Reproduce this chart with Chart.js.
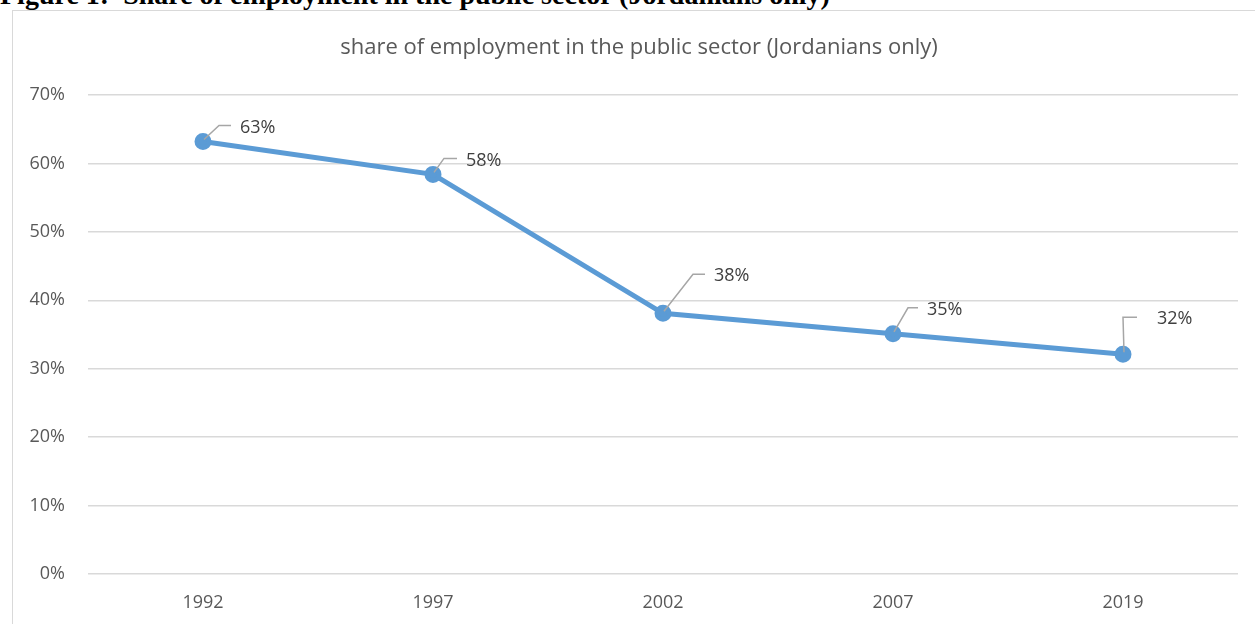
<!DOCTYPE html>
<html>
<head>
    <title>Public sector employment</title>
    <script src="https://cdn.jsdelivr.net/npm/chart.js@4.4.1/dist/chart.umd.min.js"></script>
    <style>
    body {
        margin: 0;
        width: 1255px;
        height: 624px;
        overflow: hidden;
        background: #fff;
        position: relative;
    }
    .caption {
        position: absolute;
        left: 0;
        top: -19px;
        font: bold 28px/28px "Liberation Serif", "Times New Roman", serif;
        color: #000;
        white-space: nowrap;
    }
    .frame {
        position: absolute;
        left: 12px;
        top: 10px;
        width: 1400px;
        height: 800px;
        border: 1px solid #d9d9d9;
    }
    #myCanvas {
        position: absolute;
        left: 0;
        top: 0;
    }
    </style>
</head>

<body>
  <div class="caption">Figure 1:&nbsp; Share of employment in the public sector (Jordanians only)</div>
  <div class="frame"></div>
  <canvas id="myCanvas" width="1255" height="624"></canvas>

  <script>
    var years = ["1992", "1997", "2002", "2007", "2019"];
    var publicShare = [63.2, 58.4, 38.1, 35.1, 32.1];
    var yTicks = [0, 10, 20, 30, 40, 50, 60, 70];

    // elbow of each leader line relative to its point, then label gap
    var leaders = [
      { dx: 16, dy: -16, run: 12, gap: 9 },
      { dx: 11, dy: -16, run: 13, gap: 9 },
      { dx: 30, dy: -39, run: 12, gap: 9 },
      { dx: 15, dy: -26, run: 10, gap: 9 },
      { dx: 0, dy: -37, run: 14, gap: 20 }
    ];

    var titleText = "share of employment in the public sector (Jordanians only)";

    var extras = {
      id: "extras",
      afterDatasetsDraw: function(chart) {
        var ctx = chart.ctx;
        var pts = chart.getDatasetMeta(0).data;
        ctx.save();
        ctx.fillStyle = "#595959";
        ctx.font = "22px 'Open Sans'";
        ctx.textAlign = "center";
        ctx.textBaseline = "middle";
        ctx.fillText(titleText, 639, 48);

        ctx.font = "18px 'Open Sans'";
        ctx.textAlign = "left";
        pts.forEach(function(p, i) {
          var l = leaders[i];
          var ex = p.x + l.dx, ey = p.y + l.dy;
          ctx.strokeStyle = "#a6a6a6";
          ctx.lineWidth = 1.5;
          ctx.beginPath();
          ctx.moveTo(p.x + 1, p.y - 2);
          ctx.lineTo(ex, ey);
          ctx.lineTo(ex + l.run, ey);
          ctx.stroke();
          ctx.fillStyle = "#404040";
          ctx.fillText(Math.round(publicShare[i]) + "%", ex + l.run + l.gap, ey + 2);
        });
        ctx.restore();
      }
    };

    new Chart(document.getElementById("myCanvas"), {
      type: "line",
      data: {
        labels: years,
        datasets: [{
          data: publicShare,
          borderColor: "#5b9bd5",
          backgroundColor: "#5b9bd5",
          borderWidth: 5,
          pointRadius: 6,
          pointHoverRadius: 6,
          tension: 0
        }]
      },
      options: {
        responsive: false,
        animation: false,
        layout: { padding: { top: 95, right: 17, left: 0, bottom: 0 } },
        plugins: {
          legend: { display: false },
          title: { display: false },
          tooltip: { enabled: false }
        },
        scales: {
          x: {
            offset: true,
            grid: { display: false, drawTicks: false },
            border: { display: false },
            ticks: {
              padding: 18,
              color: "#595959",
              font: { family: "'Open Sans'", size: 18 }
            },
            afterFit: function(scale) { scale.height = 50; }
          },
          y: {
            min: 0,
            max: 70,
            afterBuildTicks: function(scale) {
              scale.ticks = yTicks.map(function(v) { return { value: v }; });
            },
            grid: { color: "#d9d9d9", lineWidth: 1.5, drawTicks: false },
            border: { display: false },
            ticks: {
              padding: 23,
              color: "#595959",
              font: { family: "'Open Sans'", size: 18 },
              callback: function(v) { return v + "%"; }
            },
            afterFit: function(scale) { scale.width = 88; }
          }
        }
      },
      plugins: [extras]
    });
  </script>
</body>
</html>
